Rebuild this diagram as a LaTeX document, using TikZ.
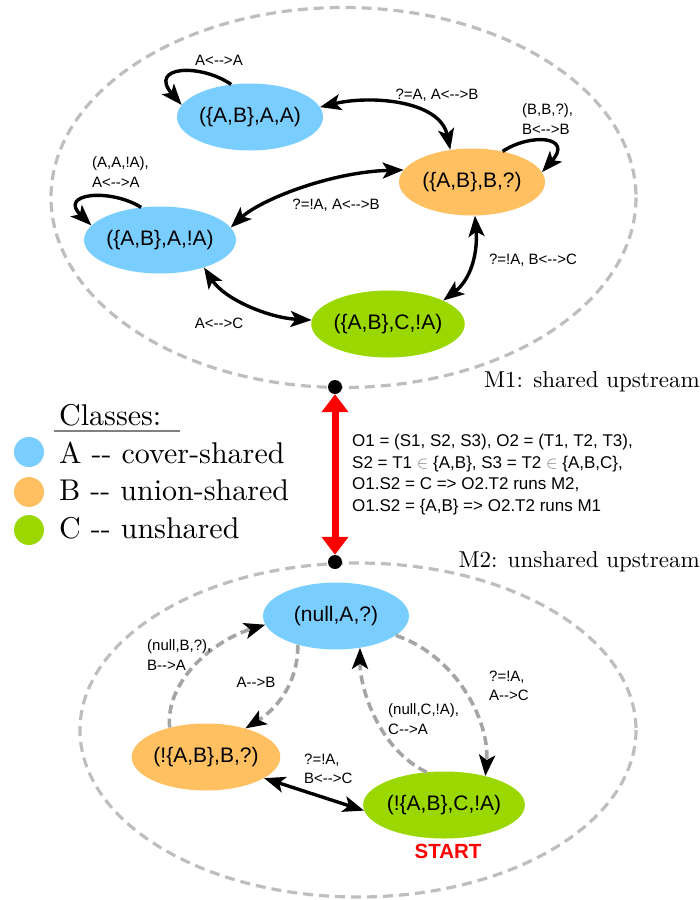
\documentclass[tikz,border=0pt]{standalone}
\usepackage{fontspec}
\newfontfamily\lsans{Liberation Sans}
\newfontfamily\lmten{lmroman10-regular.otf}
\usetikzlibrary{arrows.meta,shapes.geometric}
\definecolor{clA}{RGB}{122,206,255}
\definecolor{clB}{RGB}{255,192,98}
\definecolor{clC}{RGB}{155,215,0}
\definecolor{dgray}{RGB}{190,190,190}
\definecolor{egray}{RGB}{165,165,165}
\begin{document}
\begin{tikzpicture}[x=1pt,y=-1pt,
  st/.style={ellipse, minimum width=146pt, minimum height=67pt, inner sep=0pt, font=\lsans\fontsize{21}{24}\selectfont},
  lbl/.style={font=\lsans\fontsize{15}{19.5}\selectfont, inner sep=0pt, align=left},
  tipb/.tip={Stealth[length=21pt,width=16pt,inset=5pt,color=black]},
  solidedge/.style={line width=3.4pt, draw=black},
  dashedge/.style={line width=3.6pt, draw=egray, dash pattern=on 9pt off 5pt},
  region/.style={line width=3.2pt, draw=dgray, dash pattern=on 10pt off 6pt},
  legtxt/.style={font=\lmten\fontsize{30}{36}\selectfont, inner sep=0pt, anchor=base west},
  dot/.style={circle, fill=black, minimum size=14pt, inner sep=0pt},
  legdot/.style={circle, minimum size=30pt, inner sep=0pt}
]
\useasboundingbox (0,0) rectangle (700,900);

% regions
\draw[region] (343.5,197.5) ellipse [x radius=292.5, y radius=190];
\draw[region] (358,730) ellipse [x radius=278, y radius=167];

% M1 nodes
\node[st, fill=clA] (AA) at (250,117) {(\{A,B\},A,A)};
\node[st, fill=clB] (BQ) at (472,182) {(\{A,B\},B,?)};
\node[st, fill=clA] (ANA) at (160,240) {(\{A,B\},A,!A)};
\node[st, fill=clC] (CNA) at (388,324) {(\{A,B\},C,!A)};

% M1 edges
\draw[solidedge, -tipb] (AA.120) .. controls (200,63) and (148,66) .. (AA.170);
\draw[solidedge, tipb-tipb] (AA.8) .. controls (370,95) and (440,100) .. (BQ.124);
\draw[solidedge, -tipb] (BQ.45) .. controls (530,133) and (574,136) .. (BQ.8);
\draw[solidedge, tipb-tipb] (ANA.10) .. controls (260,200) and (330,172) .. (BQ.170);
\draw[solidedge, -tipb] (ANA.120) .. controls (110,188) and (58,193) .. (ANA.168);
\draw[solidedge, tipb-tipb] (ANA.-32) .. controls (225,300) and (270,318) .. (CNA.177);
\draw[solidedge, tipb-tipb] (BQ.-85) .. controls (478,255) and (470,280) .. (CNA.23);

% M1 labels
\node[lbl] (l1) at (219,60) {A<-{}->A};
\node[lbl] (l2) at (437,95) {?=A, A<-{}->B};
\node[lbl, anchor=west] (l3) at (522,119) {(B,B,?),\\B<-{}->B};
\node[lbl, anchor=west] (l4) at (92,172) {(A,A,!A),\\A<-{}->A};
\node[lbl] (l5) at (336,205) {?=!A, A<-{}->B};
\node[lbl] (l6) at (219,323) {A<-{}->C};
\node[lbl] (l7) at (533,260) {?=!A, B<-{}->C};

% M2 nodes
\node[st, fill=clA] (NA) at (336,616) {(null,A,?)};
\node[st, fill=clB] (NB) at (206,757) {(!\{A,B\},B,?)};
\node[st, fill=clC] (NC) at (444,805) {(!\{A,B\},C,!A)};
\node[font=\lsans\bfseries\fontsize{20.5}{22}\selectfont, text=red, inner sep=0pt] (start) at (448,851) {START};

% M2 edges
\draw[dashedge, -tipb] (NB.141) .. controls (165,680) and (215,640) .. (NA.187);
\draw[dashedge, -tipb] (NA.217) .. controls (298,685) and (275,710) .. (NB.36);
\draw[dashedge, -tipb] (NA.-18) .. controls (455,655) and (490,720) .. (NC.35);
\draw[dashedge, -tipb] (NC.118) .. controls (380,750) and (360,690) .. (NA.-53);
\draw[solidedge, tipb-tipb] (NB.-20) -- (NC.184);

% M2 labels
\node[lbl, anchor=west] (m1) at (147,655) {(null,B,?),\\B-{}->A};
\node[lbl] (m2) at (256,682) {A-{}->B};
\node[lbl, anchor=west] (m3) at (489,686) {?=!A,\\A-{}->C};
\node[lbl, anchor=west] (m4) at (388,719) {(null,C,!A),\\C-{}->A};
\node[lbl, anchor=west] (m5) at (304,769) {?=!A,\\B<-{}->C};

% region titles
\node[font=\lmten\fontsize{23}{27}\selectfont, inner sep=0pt, anchor=base east] (t1) at (700,387) {M1: shared upstream};
\node[font=\lmten\fontsize{23}{27}\selectfont, inner sep=0pt, anchor=base east] (t2) at (700,567) {M2: unshared upstream};

% link between machines
\node[dot] (d1) at (335,387) {};
\node[dot] (d2) at (335,562) {};
\draw[red, line width=7pt, {Triangle[length=18pt,width=26pt]}-{Triangle[length=18pt,width=26pt]}] (d1) -- (d2);

% explanation
\node[font=\lsans\fontsize{17}{21.7}\selectfont, inner sep=0pt, align=left, anchor=west] (expl) at (352,474.5)
{O1 = (S1, S2, S3), O2 = (T1, T2, T3),\\
S2 = T1 {\color{gray}$\in$} \{A,B\}, S3 = T2 {\color{gray}$\in$} \{A,B,C\},\\
O1.S2 = C => O2.T2 runs M2,\\
O1.S2 = \{A,B\} => O2.T2 runs M1};

% legend
\node[legtxt] (cls) at (59,425) {Classes:};
\draw[line width=1.5pt, gray] (54,431) -- (180,431);
\node[legdot, fill=clA] (ldA) at (29,452) {};
\node[legdot, fill=clB] (ldB) at (29,492) {};
\node[legdot, fill=clC] (ldC) at (29,530) {};
\node[legtxt] (ltA) at (59,463) {A {-}{-} cover-shared};
\node[legtxt] (ltB) at (59,500) {B {-}{-} union-shared};
\node[legtxt] (ltC) at (59,538) {C {-}{-} unshared};
\end{tikzpicture}
\end{document}
